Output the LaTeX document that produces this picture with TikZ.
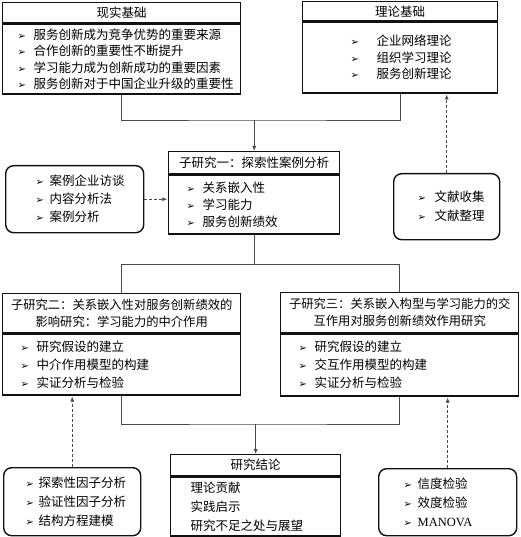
\documentclass[tikz,border=0pt]{standalone}
\usepackage{fontspec}
\setmainfont{Noto Sans CJK SC}
\newfontfamily\arrowfont{DejaVu Sans}
\newfontfamily\latinfont{Liberation Serif}
\usetikzlibrary{arrows.meta, positioning, calc}
\definecolor{rsInk}{HTML}{111111}
\definecolor{rsLine}{HTML}{4A4A4A}
% bullet of the lists, with the gap to the text as option
\newcommand{\itm}[1][16pt]{\makebox[#1][l]{\arrowfont\fontsize{10}{10}\selectfont ➢}}

\begin{document}
\begin{tikzpicture}[
  x=1pt, y=-1pt,
  font=\fontsize{12.5}{18}\selectfont,
  >={Latex[length=5pt, width=4pt]},
  hd/.style={draw=rsInk, line width=1.4pt, anchor=north west, inner sep=0pt,
             align=center},
  bd/.style={draw=rsInk, line width=1.4pt, anchor=north, inner sep=0pt,
             align=left},
  rbx/.style={draw=rsInk, line width=1.4pt, rounded corners=8pt,
              anchor=north west, inner sep=0pt, align=left},
  link/.style={draw=rsLine, line width=0.8pt},
  dlink/.style={->, draw=rsLine, line width=0.8pt, dash pattern=on 3pt off 2pt,
                shorten >=0.7pt},
]
\useasboundingbox (0,0) rectangle (520,537);

% ======================= foundations ====================================
\node[hd, minimum width=238pt, minimum height=20pt] (realH) at (2,2) {现实基础};
\node[bd, below=0pt of realH, minimum width=238pt, minimum height=70pt,
      text width=208pt, font=\fontsize{12.5}{16.5}\selectfont] (realB)
  {\itm 服务创新成为竞争优势的重要来源\\
   \itm 合作创新的重要性不断提升\\
   \itm 学习能力成为创新成功的重要因素\\
   \itm 服务创新对于中国企业升级的重要性};

\node[hd, minimum width=195pt, minimum height=19pt] (theoryH) at (302,1) {理论基础};
\node[bd, below=0pt of theoryH, minimum width=195pt, minimum height=71pt,
      text width=99pt, font=\fontsize{12.5}{16.5}\selectfont] (theoryB)
  {\itm[26pt]企业网络理论\\
   \itm[26pt]组织学习理论\\
   \itm[26pt]服务创新理论};

% ======================= sub-study 1 ====================================
\node[hd, minimum width=171pt, minimum height=22pt] (s1H) at (168,151)
  {子研究一：探索性案例分析};
\node[bd, below=0pt of s1H, minimum width=171pt, minimum height=59pt,
      text width=135pt, font=\fontsize{12.5}{17}\selectfont] (s1B)
  {\itm 关系嵌入性\\
   \itm 学习能力\\
   \itm 服务创新绩效};

\node[rbx, minimum width=138pt, minimum height=67pt, text width=78pt] (case)
  at (5,165)
  {\itm[14pt]案例企业访谈\\
   \itm[14pt]内容分析法\\
   \itm[14pt]案例分析};

\node[rbx, minimum width=106pt, minimum height=66pt, text width=58pt,
      font=\fontsize{12.5}{19}\selectfont] (lit) at (393,173)
  {\itm[17pt]文献收集\\
   \itm[17pt]文献整理};

% ======================= sub-studies 2 and 3 ============================
\node[hd, minimum width=238pt, minimum height=39pt,
      font=\fontsize{12.3}{17}\selectfont] (s2H) at (2,293)
  {子研究二：关系嵌入性对服务创新绩效的\\影响研究：学习能力的中介作用};
\node[bd, below=0pt of s2H, minimum width=238pt, minimum height=61pt,
      text width=202pt] (s2B)
  {\itm 研究假设的建立\\
   \itm 中介作用模型的构建\\
   \itm 实证分析与检验};

\node[hd, minimum width=238pt, minimum height=40pt,
      font=\fontsize{12.3}{17}\selectfont] (s3H) at (280,292)
  {子研究三：关系嵌入构型与学习能力的交\\互作用对服务创新绩效作用研究};
\node[bd, below=0pt of s3H, minimum width=238pt, minimum height=62pt,
      text width=202pt] (s3B)
  {\itm 研究假设的建立\\
   \itm 交互作用模型的构建\\
   \itm 实证分析与检验};

% ======================= conclusion and methods =========================
\node[hd, minimum width=170pt, minimum height=21pt] (conclH) at (170,454)
  {研究结论};
\node[bd, below=0pt of conclH, minimum width=170pt, minimum height=59pt,
      text width=130pt, font=\fontsize{12.5}{19}\selectfont] (conclB)
  {理论贡献\\
   实践启示\\
   研究不足之处与展望};

\node[rbx, minimum width=137pt, minimum height=68pt, text width=93pt,
      font=\fontsize{12.5}{19}\selectfont] (stat1) at (3,467)
  {\itm[13pt]探索性因子分析\\
   \itm[13pt]验证性因子分析\\
   \itm[13pt]结构方程建模};

\node[rbx, minimum width=138pt, minimum height=67pt, text width=88pt,
      font=\fontsize{12.5}{19}\selectfont] (stat2) at (378,468)
  {\itm[14pt]信度检验\\
   \itm[14pt]效度检验\\
   \itm[14pt]{\latinfont MANOVA}};

% ======================= connectors =====================================
\coordinate (jTop) at ($(s1H.north)+(0,-31)$);
\draw[link] (realB.south) |- (jTop) -| (theoryB.south);
\draw[link, ->] (jTop) -- (s1H.north);

\coordinate (jMid) at ($(s1B.south)+(0,30)$);
\draw[link] (s1B.south) -- (jMid);
\draw[link] (s2H.north) |- (jMid) -| (s3H.north);

\coordinate (jBot) at ($(conclH.north)+(0,-30)$);
\draw[link] (s2B.south) |- (jBot) -| (s3B.south);
\draw[link, ->] (jBot) -- (conclH.north);

% method boxes feed the studies
\draw[dlink] (case.east) -- (case.east -| s1B.west);
\draw[dlink] (lit.north) -- (lit.north |- theoryB.south);
\draw[dlink] (stat1.north) -- (stat1.north |- s2B.south);
\draw[dlink] (stat2.north) -- (stat2.north |- s3B.south);
\end{tikzpicture}
\end{document}
